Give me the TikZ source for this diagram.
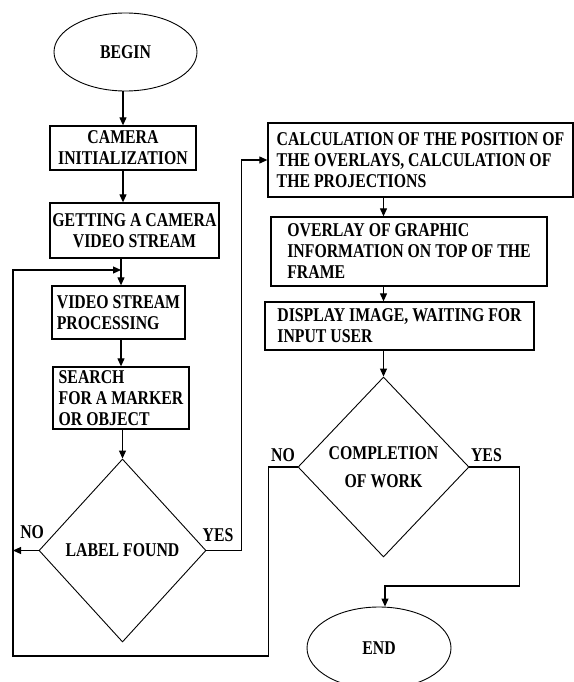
\documentclass[tikz,border=0pt]{standalone}
\usepackage{fontspec}
\setmainfont[FakeStretch=0.81]{Liberation Serif}
\usepackage{tikz}
\usetikzlibrary{shapes.geometric, arrows.meta, positioning, calc}

\begin{document}
\begin{tikzpicture}[x=1pt, y=-1pt, >={Triangle[length=8pt, width=7pt]},
  txt/.style={font=\bfseries\fontsize{19.5}{21}\selectfont},
  proc/.style={txt, rectangle, draw=black, line width=1.3pt, inner sep=0pt},
  dec/.style={txt, diamond, draw=black, line width=0.9pt, inner sep=0pt, align=center},
  term/.style={txt, ellipse, draw=black, line width=0.9pt, inner sep=0pt},
  arr/.style={->, line width=1.1pt},
  lbl/.style={txt, inner sep=2pt}
]
\useasboundingbox (0,0) rectangle (573,682);

%% ---- Left column ----
\node[term] (begin) at (125.5, 52) [minimum width=143, minimum height=78] {BEGIN};
\node[proc, align=center] (init) at (123, 148) [minimum width=146, minimum height=44] {CAMERA\\INITIALIZATION};
\node[proc, align=center] (stream) at (134.5, 230.5) [minimum width=169, minimum height=55] {GETTING A CAMERA\\VIDEO STREAM};
\node[proc, align=left] (proc) at (118.5, 312.5) [minimum width=133, minimum height=53] {VIDEO STREAM\\PROCESSING};
\node[proc, align=left] (search) at (121, 398) [minimum width=136, minimum height=62] {SEARCH\\FOR A MARKER\\OR OBJECT};
\node[dec] (found) at (122.5, 550.5) [minimum width=167, minimum height=183] {LABEL FOUND};

%% ---- Right column ----
\node[proc, align=left] (calc) at (420.5, 160) [minimum width=305, minimum height=74] {CALCULATION OF THE POSITION OF\\THE OVERLAYS, CALCULATION OF\\THE PROJECTIONS};
\node[proc, align=left] (overlay) at (409, 251.5) [minimum width=276, minimum height=69] {OVERLAY OF GRAPHIC\\INFORMATION ON TOP OF THE\\FRAME};
\node[proc, align=left] (display) at (399.5, 326) [minimum width=269, minimum height=48] {DISPLAY IMAGE, WAITING FOR\\INPUT USER};
\node[dec] (done) at (383.5, 467) [minimum width=171, minimum height=180] {COMPLETION\\[7pt]OF WORK};
\node[term] (stop) at (379, 648) [minimum width=144, minimum height=82] {END};

%% ---- Helper points for the loop lanes ----
\coordinate (loopin) at (121, 270);
\coordinate (corner) at (13, 656);
\coordinate (join)   at (385, 586);

%% ---- Left column arrows ----
\draw[arr] (init.north |- begin.south) -- (init.north);
\draw[arr] (init.south) -- (init.south |- stream.north);
\draw[arr] (stream.south -| loopin) -- (proc.north -| loopin);
\draw[arr] (proc.south -| loopin) -- (search.north -| loopin);
\draw[arr] (found.north |- search.south) -- (found.north);

%% ---- Label found branches ----
\draw[arr] (found.west) -- node[lbl, above=9pt, pos=0.25]{NO} (found.west -| corner);
\draw[arr] (found.east) -- node[lbl, above=6pt, pos=0.33]{YES} ++(35,0) |- (calc.west);

%% ---- Right column arrows ----
\draw[arr] (calc.south -| done.north) -- (overlay.north -| done.north);
\draw[arr] (overlay.south -| done.north) -- (display.north -| done.north);
\draw[arr] (display.south -| done.north) -- (done.north);

%% ---- Completion branches ----
% NO goes back under both columns and up the left edge into the video stream
\draw[arr] (done.west) -- node[lbl, above=3pt, pos=0.5]{NO} ++(-29,0) |- (corner) |- (loopin);
\draw[arr] (done.east) -- node[lbl, above=3pt, pos=0.34]{YES} ++(50,0) |- (join) -- (join |- stop.north);

\end{tikzpicture}
\end{document}
